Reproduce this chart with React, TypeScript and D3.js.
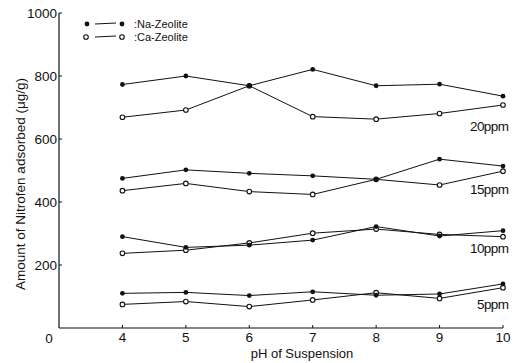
import React from "react";
import * as d3 from "d3";

const phValues = [4, 5, 6, 7, 8, 9, 10];
const xTicks = [4, 5, 6, 7, 8, 9, 10];
const yTicks = [200, 400, 600, 800, 1000];

const na20 = [773, 800, 769, 821, 769, 774, 736];
const ca20 = [669, 692, 769, 671, 663, 681, 708];
const na15 = [475, 502, 491, 483, 472, 536, 514];
const ca15 = [436, 459, 433, 424, 472, 454, 498];
const na10 = [290, 256, 263, 279, 322, 292, 309];
const ca10 = [237, 247, 270, 301, 314, 297, 290];
const na5 = [110, 113, 103, 115, 104, 108, 140];
const ca5 = [75, 84, 68, 89, 112, 94, 128];

const concLabels = ["20ppm", "15ppm", "10ppm", "5ppm"];
const concLabelValues = [640, 440, 255, 75];

const W = 526;
const H = 363;
const FONT = "'Liberation Sans', Arial, sans-serif";

export default function App() {
  const x = d3.scaleLinear().domain([3, 10]).range([59, 503]);
  const y = d3.scaleLinear().domain([0, 1000]).range([328, 13]);
  const line = d3
    .line<number>()
    .x((_, i) => x(phValues[i]))
    .y((d) => y(d));

  const naSeries = [na20, na15, na10, na5];
  const caSeries = [ca20, ca15, ca10, ca5];

  return (
    <svg
      width={W}
      height={H}
      style={{ position: "absolute", left: 0, top: 0, background: "#fff" }}
      fontFamily={FONT}
    >
      <rect width={W} height={H} fill="#fff" />
      {/* axes */}
      <line x1={x(3)} x2={x(10)} y1={y(0)} y2={y(0)} stroke="#111" strokeWidth={1.2} />
      <line x1={x(3)} x2={x(3)} y1={y(0)} y2={y(1000)} stroke="#111" strokeWidth={1.2} />
      {yTicks.map((t) => (
        <g key={"yt" + t}>
          <line x1={x(3)} x2={x(3) + 3} y1={y(t)} y2={y(t)} stroke="#111" strokeWidth={1} />
          <text x={x(3) - 2} y={y(t) + 5} textAnchor="end" fontSize={13.5} fill="#111">
            {t}
          </text>
        </g>
      ))}
      <text x={x(3) - 10} y={y(0) + 15} textAnchor="middle" fontSize={13.5} fill="#111">
        0
      </text>
      {xTicks.map((t) => (
        <g key={"xt" + t}>
          <line x1={x(t)} x2={x(t)} y1={y(0)} y2={y(0) - 3} stroke="#111" strokeWidth={1} />
          <text x={x(t)} y={y(0) + 14} textAnchor="middle" fontSize={13.5} fill="#111">
            {t}
          </text>
        </g>
      ))}
      <text x={302} y={358} textAnchor="middle" fontSize={13} fill="#111">
        pH of Suspension
      </text>
      <text
        transform={`translate(25,${184}) rotate(-90)`}
        textAnchor="middle"
        fontSize={13.5}
        fill="#111"
      >
        Amount of Nitrofen adsorbed (μg/g)
      </text>

      {/* lines */}
      {naSeries.map((s, i) => (
        <path key={"na" + i} d={line(s) || ""} fill="none" stroke="#111" strokeWidth={1} />
      ))}
      {caSeries.map((s, i) => (
        <path key={"ca" + i} d={line(s) || ""} fill="none" stroke="#111" strokeWidth={1} />
      ))}
      {/* markers */}
      {caSeries.map((s, i) =>
        s.map((v, j) => (
          <circle
            key={"cam" + i + "-" + j}
            cx={x(phValues[j])}
            cy={y(v)}
            r={2.3}
            fill="#fff"
            stroke="#111"
            strokeWidth={1.1}
          />
        ))
      )}
      {naSeries.map((s, i) =>
        s.map((v, j) => (
          <circle key={"nam" + i + "-" + j} cx={x(phValues[j])} cy={y(v)} r={2.4} fill="#111" />
        ))
      )}

      {concLabels.map((l, i) => (
        <text
          key={l}
          x={i === 3 ? 477 : 470}
          y={y(concLabelValues[i]) + 5}
          fontSize={13.5}
          fill="#111"
          letterSpacing={-0.6}
        >
          {l}
        </text>
      ))}

      {/* legend */}
      <circle cx={87} cy={24} r={2.4} fill="#111" />
      <line x1={95} x2={116} y1={24} y2={23} stroke="#111" strokeWidth={1} />
      <circle cx={122} cy={24} r={2.4} fill="#111" />
      <text x={134} y={28} fontSize={11} fill="#111">
        :Na-Zeolite
      </text>
      <circle cx={86} cy={37} r={2.3} fill="#fff" stroke="#111" strokeWidth={1.1} />
      <line x1={95} x2={116} y1={37} y2={36} stroke="#111" strokeWidth={1} />
      <circle cx={122} cy={37} r={2.3} fill="#fff" stroke="#111" strokeWidth={1.1} />
      <text x={134} y={41} fontSize={11} fill="#111">
        :Ca-Zeolite
      </text>
    </svg>
  );
}
